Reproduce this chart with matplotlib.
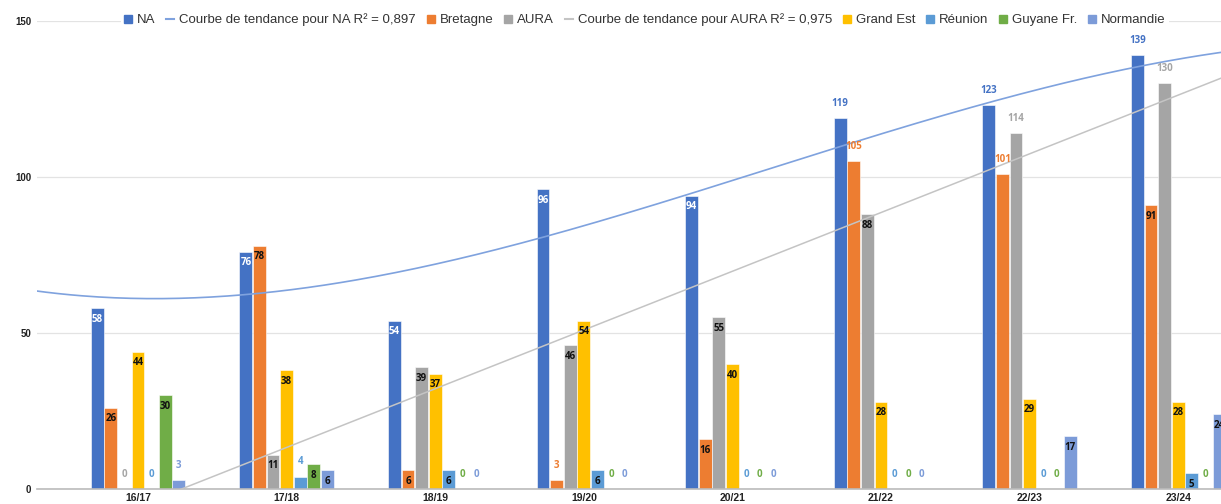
import numpy as np
import matplotlib
matplotlib.use('Agg')
from matplotlib import pyplot as plt
from matplotlib.patches import Patch
from matplotlib.lines import Line2D

# data
saisons = ['16/17', '17/18', '18/19', '19/20', '20/21', '21/22', '22/23', '23/24']
na = [58, 76, 54, 96, 94, 119, 123, 139]
bretagne = [26, 78, 6, 3, 16, 105, 101, 91]
aura = [0, 11, 39, 46, 55, 88, 114, 130]
grand_est = [44, 38, 37, 54, 40, 28, 29, 28]
reunion = [0, 4, 6, 6, 0, 0, 0, 5]
guyane = [30, 8, 0, 0, 0, 0, 0, 0]
normandie = [3, 6, 0, 0, 0, 0, 17, 24]

series = [('NA', na, '#4472C4'),
          ('Bretagne', bretagne, '#ED7D31'),
          ('AURA', aura, '#A5A5A5'),
          ('Grand Est', grand_est, '#FFC000'),
          ('Réunion', reunion, '#5B9BD5'),
          ('Guyane Fr.', guyane, '#70AD47'),
          ('Normandie', normandie, '#7C9BD8')]

plt.rcParams['font.family'] = ['Liberation Sans', 'DejaVu Sans']

W, H = 1221, 504
fig = plt.figure(figsize=(W / 100, H / 100), dpi=100)
left, bottom, top = 37, 489, 21
ax = fig.add_axes([left / W, (H - bottom) / H, (W - left) / W, (bottom - top) / H])

x = np.arange(len(saisons))
slot = 0.0915
bw = 0.086
for i, (name, vals, col) in enumerate(series):
    pos = x + (i - 3) * slot
    ax.bar(pos, vals, width=bw, color=col, edgecolor='white', linewidth=0.4, zorder=2)
    for px, v in zip(pos, vals):
        if v < 5 or v > 100:
            ax.annotate(str(v), (px, v), xytext=(0, 10.5), textcoords='offset points',
                        ha='center', va='center', fontsize=7, fontweight='bold',
                        family=['Open Sans', 'DejaVu Sans'], color=col, zorder=4)
        else:
            tc = 'white' if name == 'NA' else '#111111'
            ax.annotate(str(v), (px, v), xytext=(0, -8), textcoords='offset points',
                        ha='center', va='center', fontsize=7, fontweight='bold',
                        family=['Open Sans', 'DejaVu Sans'], color=tc, zorder=4)

# trend lines (polynomial for NA, linear for AURA)
xs = np.linspace(-0.7, 7.4, 300)
p_na = np.polyfit(x, na, 3)
p_au = np.polyfit(x, aura, 1)
ax.plot(xs, np.polyval(p_na, xs), color='#7FA2DE', lw=1.2, zorder=3)
ax.plot(xs, np.polyval(p_au, xs), color='#C4C4C4', lw=1.1, zorder=3)

ax.set_xlim(-0.68, (W - 138) / 148.6)
ax.set_ylim(0, 150)
ax.set_yticks([0, 50, 100, 150])
ax.yaxis.grid(True, color='#E3E3E3', lw=0.9, zorder=0)
ax.set_axisbelow(True)
for s in ['top', 'right', 'left']:
    ax.spines[s].set_visible(False)
ax.spines['bottom'].set_color('#BBBBBB')
ax.spines['bottom'].set_linewidth(1.2)
ax.set_xticks(x)
ax.set_xticklabels(saisons, fontsize=7.5, fontweight='bold', color='#222222')
ax.tick_params(axis='x', length=0, pad=3)
ax.tick_params(axis='y', length=0, pad=4, labelsize=7, labelcolor='#222222')
for t in ax.get_yticklabels():
    t.set_fontweight('bold')

handles = [Patch(color='#4472C4', label='NA'),
           Line2D([], [], color='#7FA2DE', lw=1.5, label='Courbe de tendance pour NA R² = 0,897'),
           Patch(color='#ED7D31', label='Bretagne'),
           Patch(color='#A5A5A5', label='AURA'),
           Line2D([], [], color='#C4C4C4', lw=1.5, label='Courbe de tendance pour AURA R² = 0,975'),
           Patch(color='#FFC000', label='Grand Est'),
           Patch(color='#5B9BD5', label='Réunion'),
           Patch(color='#70AD47', label='Guyane Fr.'),
           Patch(color='#7C9BD8', label='Normandie')]
leg = fig.legend(handles=handles, loc='center', bbox_to_anchor=(645 / W, 1 - 20 / H),
                 ncol=9, fontsize=9.5, frameon=True, facecolor='white', edgecolor='none',
                 framealpha=1, handlelength=0.6, handleheight=0.6, handletextpad=0.4,
                 columnspacing=0.8, borderpad=0.2)
for t in leg.get_texts():
    t.set_color('#333333')

fig.savefig('out.png', dpi=100)
